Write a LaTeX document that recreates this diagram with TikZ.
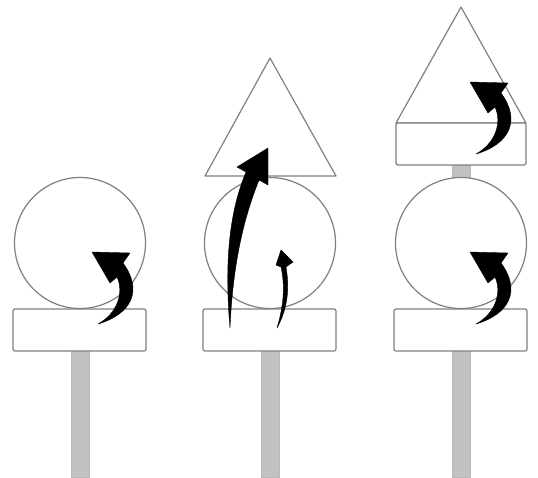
\documentclass[tikz,border=0pt]{standalone}
\usetikzlibrary{calc}
\tikzset{
  part/.style  = {draw=gray, fill=white, line width=1.2pt, line join=round},
  block/.style = {part, rounded corners=2pt},
  pole/.style  = {fill=black!24, draw=black!28, line width=0.5pt},
  curl/.style  = {fill=black, draw=black, line width=0.4pt, line join=round},
}
% curled push arrow, placed by the centre of the ball it turns
\newcommand{\curlarrow}[2]{%
  \begin{scope}[shift={(#1,#2)}]
    \draw[curl] (18,81) .. controls (52,71) and (63,47) .. (43,20)
      -- (50,10) -- (12,9) -- (30,40) -- (37,34)
      .. controls (44,49) and (38,70) .. (18,81) -- cycle;
  \end{scope}
}

\begin{document}
\begin{tikzpicture}[x=1pt, y=-1pt]
  \useasboundingbox (0,0) rectangle (538,477);
  % posts
  \foreach \px in {80,270,461}
    \draw[pole] (\px-9,351) rectangle (\px+9,477);
  \draw[pole] (452,165) rectangle (470,178);
  % bases and balls
  \foreach \px in {80,270,461} {
    \draw[block] (\px-67,309) rectangle (\px+66,351);
    \draw[part] (\px,243) circle[radius=65.5];
  }
  % cones
  \draw[part] (270,58) -- (336,176) -- (205,176) -- cycle;
  \draw[part] (461,7) -- (526,123) -- (396,123) -- cycle;
  \draw[block] (396,123) rectangle (526,165);
  % turning arrows
  \curlarrow{80}{243}
  \curlarrow{458}{243}
  \curlarrow{458}{73}
  % lifting arrows, middle column
  \draw[curl] (230,328) .. controls (224,260) and (230,210) .. (246,172)
    -- (237,167) -- (268,148) -- (268,185) -- (259,180)
    .. controls (245,215) and (233,260) .. (230,328) -- cycle;
  \draw[curl] (277,328) .. controls (284,305) and (285,285) .. (281,267)
    -- (276,265) -- (281,250) -- (293,262) -- (286,267)
    .. controls (290,290) and (287,310) .. (277,328) -- cycle;
\end{tikzpicture}
\end{document}
